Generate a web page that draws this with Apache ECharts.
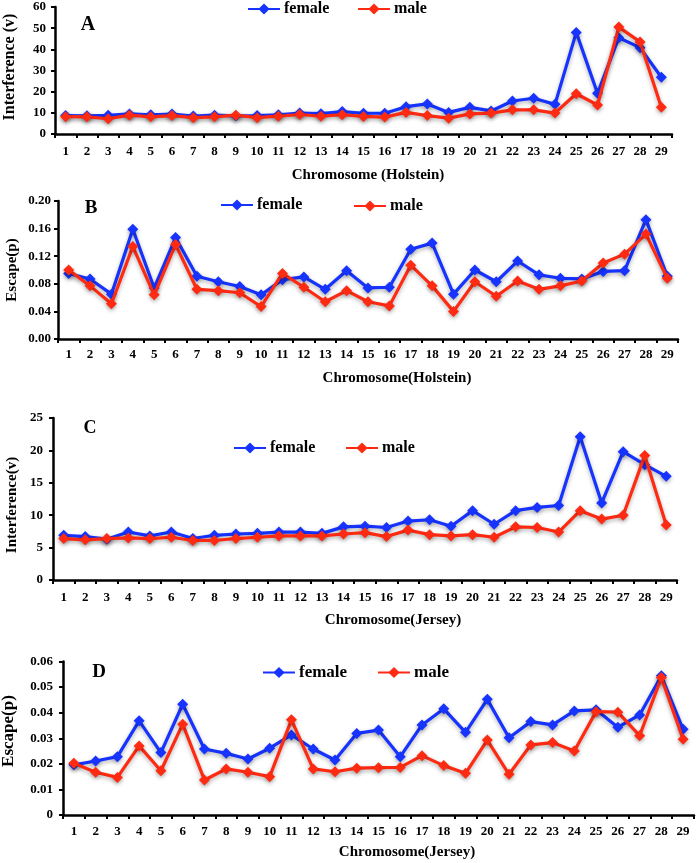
<!DOCTYPE html>
<html>
<head>
<meta charset="utf-8">
<script src="https://cdn.jsdelivr.net/npm/echarts@6/dist/echarts.min.js"></script>
<style>html,body{margin:0;padding:0;background:#fff}#c{width:697px;height:863px}</style>
</head>
<body>
<div id="c"></div>
<script>
const chromosomes = Array.from({length: 29}, (_, i) => String(i + 1));

const holsteinInterfFemale = [8.7,8.6,8.8,9.5,9.1,9.4,8.5,8.9,8.6,8.7,9.1,9.9,9.6,10.6,9.8,9.8,12.9,14.2,10.2,12.6,10.9,15.6,16.9,14.0,48.0,19.2,45.5,40.8,26.8];
const holsteinInterfMale   = [8.2,8.1,7.2,8.9,8.1,8.7,7.7,8.1,8.9,7.7,8.4,9.2,8.4,9.1,8.3,8.0,10.2,8.7,7.5,9.5,9.9,11.4,11.4,9.9,19.0,13.7,50.5,43.5,12.6];

const holsteinEscFemale = [0.095,0.087,0.065,0.159,0.074,0.147,0.091,0.083,0.076,0.064,0.086,0.090,0.072,0.099,0.074,0.075,0.130,0.139,0.065,0.100,0.083,0.113,0.093,0.088,0.087,0.098,0.099,0.173,0.091];
const holsteinEscMale   = [0.100,0.077,0.051,0.134,0.064,0.137,0.072,0.070,0.067,0.047,0.095,0.075,0.054,0.070,0.054,0.048,0.107,0.077,0.040,0.083,0.062,0.084,0.072,0.077,0.084,0.110,0.123,0.152,0.088];

const jerseyInterfFemale = [6.9,6.7,6.3,7.4,6.8,7.4,6.4,6.9,7.1,7.2,7.4,7.4,7.2,8.2,8.3,8.1,9.1,9.3,8.3,10.7,8.6,10.7,11.2,11.5,22.1,11.9,19.8,17.8,16.0];
const jerseyInterfMale   = [6.4,6.2,6.4,6.5,6.4,6.6,6.1,6.1,6.4,6.6,6.8,6.8,6.8,7.1,7.3,6.7,7.7,7.0,6.8,7.0,6.6,8.2,8.1,7.4,10.7,9.4,10.0,19.2,8.5];

const jerseyEscFemale = [0.0196,0.0211,0.0228,0.0368,0.0244,0.0433,0.0258,0.0241,0.0219,0.0261,0.0313,0.0258,0.0215,0.0319,0.0332,0.0228,0.0352,0.0415,0.0323,0.0452,0.0302,0.0365,0.0352,0.0407,0.0411,0.0343,0.0391,0.0544,0.0335];
const jerseyEscMale   = [0.0202,0.0167,0.0147,0.0270,0.0173,0.0355,0.0137,0.0180,0.0167,0.0150,0.0372,0.0180,0.0169,0.0183,0.0185,0.0186,0.0232,0.0193,0.0163,0.0293,0.0159,0.0274,0.0283,0.0250,0.0404,0.0402,0.0310,0.0537,0.0296];

const BLUE = '#1633ff';
const RED = '#ff2a12';
const FONT = '"Liberation Serif", "Times New Roman", serif';

const grids = [
  {left: 55, top: 7, width: 617, height: 127},
  {left: 58, top: 201, width: 620, height: 138},
  {left: 53, top: 418, width: 624, height: 162},
  {left: 63, top: 661.5, width: 631, height: 153.5}
];
const yCfg = [
  {min: 0, max: 60, interval: 10, fmt: v => String(v), xMargin: 11, yMargin: 9},
  {min: 0, max: 0.2, interval: 0.04, fmt: v => v.toFixed(2), xMargin: 9, yMargin: 7},
  {min: 0, max: 25, interval: 5, fmt: v => String(v), xMargin: 11, yMargin: 10},
  {min: 0, max: 0.06, interval: 0.01, fmt: v => v === 0 ? '0' : v.toFixed(2), xMargin: 10, yMargin: 10}
];
const seriesData = [
  [holsteinInterfFemale, holsteinInterfMale],
  [holsteinEscFemale, holsteinEscMale],
  [jerseyInterfFemale, jerseyInterfMale],
  [jerseyEscFemale, jerseyEscMale]
];

const axisLine = {show: true, lineStyle: {color: '#000', width: 2.5}};
const axisTick = {show: true, length: 4, lineStyle: {color: '#000', width: 2}};
const labelStyle = {color: '#000', fontFamily: FONT, fontWeight: 'bold', fontSize: 13};

const xAxis = grids.map((g, i) => ({
  type: 'category', gridIndex: i, data: chromosomes, boundaryGap: true,
  axisLine, axisTick,
  axisLabel: Object.assign({}, labelStyle, {margin: yCfg[i].xMargin, interval: 0}),
  splitLine: {show: false}
}));
const yAxis = grids.map((g, i) => ({
  type: 'value', gridIndex: i, min: yCfg[i].min, max: yCfg[i].max, interval: yCfg[i].interval,
  axisLine, axisTick,
  axisLabel: Object.assign({}, labelStyle, {margin: yCfg[i].yMargin, formatter: yCfg[i].fmt}),
  splitLine: {show: false}
}));

function mkSeries(name, data, color, i) {
  return {
    name, type: 'line', xAxisIndex: i, yAxisIndex: i, data,
    symbol: 'diamond', symbolSize: 11,
    lineStyle: {color, width: 3.2, shadowColor: 'rgba(0,0,0,0.3)', shadowBlur: 4, shadowOffsetY: 2},
    itemStyle: {color, shadowColor: 'rgba(0,0,0,0.3)', shadowBlur: 4, shadowOffsetY: 2},
    animation: false, z: name === 'male' ? 3 : 2
  };
}
const series = [];
seriesData.forEach((pair, i) => {
  series.push(mkSeries('female', pair[0], BLUE, i));
  series.push(mkSeries('male', pair[1], RED, i));
});

const legendPos = [
  [{name: 'female', left: 247, cy: 8, fs: 16}, {name: 'male', left: 357, cy: 8, fs: 16}],
  [{name: 'female', left: 220, cy: 204, fs: 16}, {name: 'male', left: 353, cy: 205, fs: 16}],
  [{name: 'female', left: 233, cy: 447, fs: 16}, {name: 'male', left: 345, cy: 447, fs: 16}],
  [{name: 'female', left: 262, cy: 671, fs: 17}, {name: 'male', left: 377, cy: 671, fs: 17}]
];
const legend = [];
legendPos.forEach(p => p.forEach(it => {
  legend.push({
    data: [{name: it.name, itemStyle: {color: it.name === 'female' ? BLUE : RED}}],
    left: it.left, top: it.cy - 7, itemWidth: 32, itemHeight: 14, itemGap: 0,
    padding: 0, selectedMode: false,
    textStyle: {color: '#000', fontFamily: FONT, fontWeight: 'bold', fontSize: it.fs, padding: [0, 0, 0, -1]}
  });
}));

function txt(text, x, y, size, rot) {
  return {
    type: 'text', x, y, rotation: rot || 0,
    style: {text, fill: '#000', font: 'bold ' + size + 'px ' + FONT, textAlign: 'center', textVerticalAlign: 'middle'}
  };
}
const graphic = [
  txt('A', 88, 25, 20), txt('B', 91, 208, 19), txt('C', 90, 428, 18), txt('D', 99, 672, 19),
  txt('Chromosome (Holstein)', 368, 175, 15),
  txt('Chromosome(Holstein)', 397, 378, 15),
  txt('Chromosome(Jersey)', 393, 620, 15),
  txt('Chromosome(Jersey)', 407, 852, 15),
  txt('Interference (v)', 10, 67, 16, Math.PI / 2),
  txt('Escape(p)', 12, 270, 15, Math.PI / 2),
  txt('Interference(v)', 12, 505, 15, Math.PI / 2),
  txt('Escape(p)', 9, 731, 17, Math.PI / 2)
];

const chart = echarts.init(document.getElementById('c'));
chart.setOption({
  backgroundColor: '#fff',
  animation: false,
  grid: grids,
  xAxis, yAxis, series, legend, graphic
});
</script>
</body>
</html>
